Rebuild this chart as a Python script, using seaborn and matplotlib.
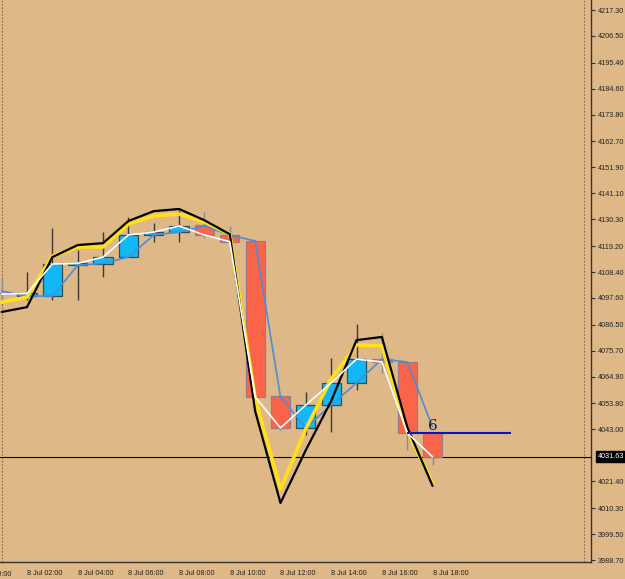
import numpy as np
import pandas as pd
import matplotlib
matplotlib.use("Agg")
import matplotlib.pyplot as plt
import seaborn as sns

# hourly bars, 8 Jul 01:00 .. 18:00
hours = [1, 2, 3, 4, 5, 6, 7, 8, 9, 10, 11, 12, 13, 14, 15, 16, 17, 18]
opens = [4099.6, 4098.5, 4098.4, 4111.5, 4111.7, 4114.6, 4123.8, 4125.0, 4127.9,
         4123.8, 4121.3, 4056.9, 4043.6, 4053.1, 4062.3, 4072.2, 4071.0, 4041.5]
highs = [4106.0, 4108.4, 4126.7, 4117.5, 4125.0, 4131.3, 4128.8, 4134.2, 4133.3,
         4127.5, 4121.6, 4056.9, 4058.5, 4072.7, 4086.8, 4083.1, 4071.0, 4041.5]
lows = [4096.8, 4096.8, 4096.8, 4096.8, 4106.3, 4114.6, 4121.0, 4121.0, 4122.5,
        4121.0, 4056.5, 4042.7, 4040.7, 4041.9, 4059.4, 4066.4, 4034.4, 4028.2]
closes = [4099.2, 4099.5, 4111.7, 4112.0, 4114.6, 4123.8, 4125.0, 4127.5, 4123.8,
          4121.0, 4056.5, 4043.6, 4053.1, 4062.3, 4072.2, 4071.0, 4041.5, 4031.6]

# indicator lines
black_ma = [4091.8, 4093.8, 4114.6, 4119.6, 4120.4, 4129.6, 4133.7, 4134.6, 4129.9,
            4124.1, 4050.6, 4012.4, 4034.4, 4054.8, 4080.1, 4081.4, 4044.0, 4019.5]
yellow_ma = [4095.9, 4098.0, 4115.0, 4118.8, 4118.8, 4128.3, 4131.7, 4132.5, 4129.2,
             4124.1, 4056.0, 4018.2, 4043.2, 4064.0, 4078.1, 4077.7, 4042.4, 4020.7]
blue_line = [4100.5, 4098.4, 4098.4, 4111.2, 4112.0, 4114.6, 4123.8, 4125.0, 4127.5,
             4123.8, 4121.3, 4056.5, 4043.6, 4053.1, 4062.3, 4072.2, 4071.0, 4044.0]

y_ticks = [4217.30, 4206.50, 4195.40, 4184.60, 4173.80, 4162.70, 4151.90, 4141.10,
           4130.30, 4119.20, 4108.40, 4097.60, 4086.50, 4075.70, 4064.90, 4053.80,
           4043.00, 4021.40, 4010.30, 3999.50, 3988.70]
x_ticks = [2, 4, 6, 8, 10, 12, 14, 16, 18]
x_labels = ["8 Jul %02d:00" % h for h in x_ticks]

last_price = 4031.63
level_price = 4041.5
level_start, level_end = 17, 21.1

BG = "#deb887"
sns.set_style("white", {"axes.facecolor": BG, "figure.facecolor": BG})
plt.rcParams["font.family"] = ["Liberation Sans", "DejaVu Sans"]

df = pd.DataFrame({"hour": hours, "open": opens, "high": highs, "low": lows,
                   "close": closes, "black": black_ma, "yellow": yellow_ma,
                   "blue": blue_line})
up = df["close"] >= df["open"]

fig = plt.figure(figsize=(6.25, 5.79), dpi=100)
ax = fig.add_axes([0, 17 / 579, 591 / 625, 562 / 579])

# wicks
ax.vlines(df.loc[up, "hour"], df.loc[up, "low"], df.loc[up, "high"],
          color="#3a3a3a", lw=1, zorder=1)
ax.vlines(df.loc[~up, "hour"], df.loc[~up, "low"], df.loc[~up, "high"],
          color="#8a8a9a", lw=1, zorder=1)

# bodies
bot = np.minimum(df["open"], df["close"])
height = (df["close"] - df["open"]).abs().clip(lower=0.6)
ax.bar(df.loc[up, "hour"], height[up], bottom=bot[up], width=0.76,
       color="#12b8f5", edgecolor="#2f4f5f", lw=0.9, zorder=2)
ax.bar(df.loc[~up, "hour"], height[~up], bottom=bot[~up], width=0.76,
       color="#fa6448", edgecolor="#9a7a90", lw=0.9, zorder=2)

sns.lineplot(data=df, x="hour", y="blue", color="#4a8fd8", lw=1.2, ax=ax, zorder=3)
sns.lineplot(data=df, x="hour", y="yellow", color="#ffe01a", lw=2.6, ax=ax, zorder=4)
sns.lineplot(data=df, x="hour", y="black", color="black", lw=1.6, ax=ax, zorder=5)
sns.lineplot(data=df, x="hour", y="close", color="white", lw=1.2, ax=ax, zorder=6)

ax.axhline(last_price, color="black", lw=0.8, zorder=1)
ax.hlines(level_price, level_start, level_end, color="#1010c0", lw=1.5, zorder=7)
ax.text(18, level_price, "6", fontsize=11, family="DejaVu Serif",
        color="#1a1a40", ha="center", va="bottom", zorder=8)

# dotted separators
ax.axvline(1.0, color="#8b6a4a", lw=0.8, ls=(0, (1.5, 1.5)), zorder=0)
ax.axvline(23.97, color="#8b6a4a", lw=0.8, ls=(0, (1.5, 1.5)), zorder=0)

ax.set_xticks(x_ticks)
ax.set_xticklabels(x_labels, ha="left")
ax.yaxis.tick_right()
ax.set_yticks(y_ticks)
ax.set_yticklabels(["%.2f" % v for v in y_ticks])
ax.set_xlim(0.935, 24.25)
ax.set_ylim(3987.87, 4221.46)
ax.tick_params(axis="x", direction="out", length=3, width=0.8, pad=3,
               labelsize=5.2, colors="#333333", labelcolor="#222222")
ax.tick_params(axis="y", direction="out", length=3, width=0.8, pad=2,
               labelsize=5.2, colors="#333333", labelcolor="#222222")
ax.set_xlabel("")
ax.set_ylabel("")

# first time label, cut by the left edge as in the reference
ax.annotate("8 Jul 00:00", xy=(0, 0), xycoords=("data", "axes fraction"),
            xytext=(0, -6.2), textcoords="offset points", fontsize=5.2,
            color="#222222", ha="left", va="top", annotation_clip=False)

for side in ["left", "top"]:
    ax.spines[side].set_visible(False)
for side in ["right", "bottom"]:
    ax.spines[side].set_color("#333333")
    ax.spines[side].set_linewidth(1)

# current price tag on the axis
ax.annotate("%.2f" % last_price, xy=(1, last_price), xycoords=("axes fraction", "data"),
            xytext=(5, 0), textcoords="offset points", fontsize=5.2, color="white",
            va="center", ha="left",
            bbox=dict(boxstyle="square,pad=0.25", fc="black", ec="black"))

fig.savefig("out.png", dpi=100, facecolor=BG)
